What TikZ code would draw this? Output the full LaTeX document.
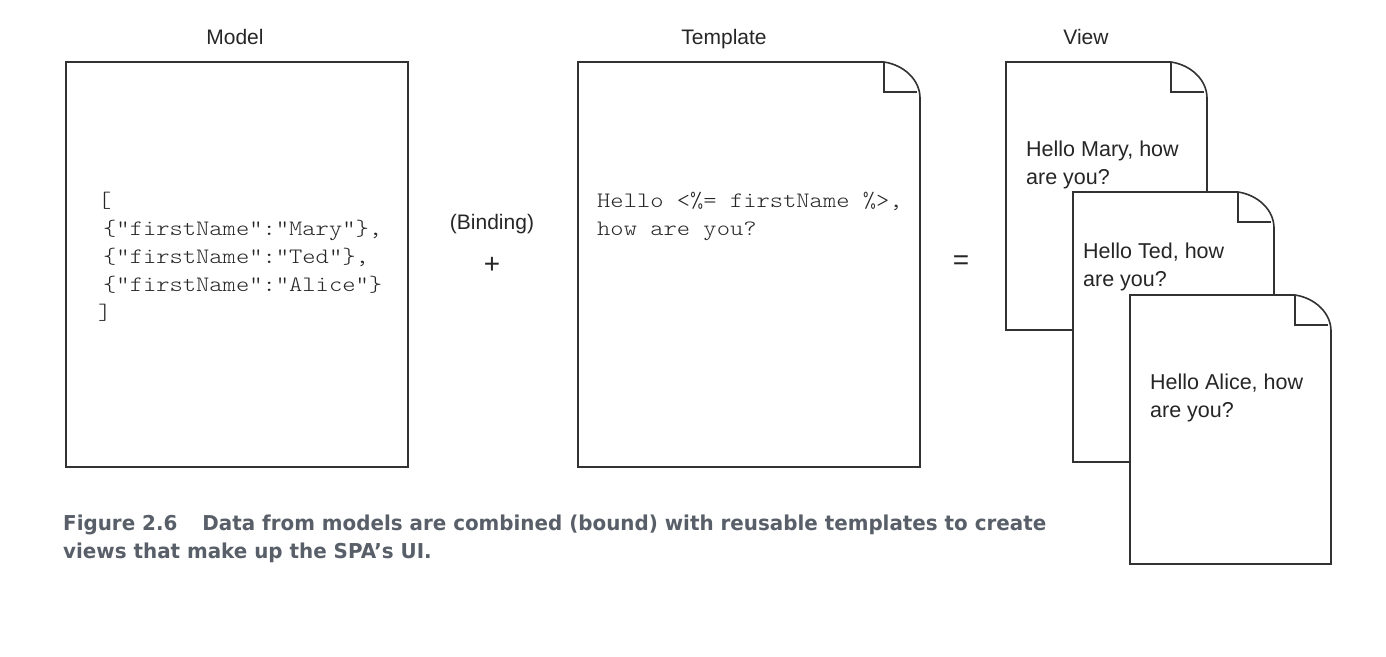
\documentclass[tikz,border=0pt]{standalone}
\usepackage{fontspec}
\setmainfont{Liberation Sans}
\newfontfamily\codefont[FakeStretch=1.15]{lmmonolt10-regular.otf}
\newfontfamily\capfont[FakeStretch=0.97]{DejaVu Sans}
\definecolor{ink}{RGB}{50,50,50}
\definecolor{capgray}{RGB}{88,95,104}

\tikzset{
  sheet/.style={draw=ink, line width=1.6pt, fill=white, line join=miter},
  label/.style={font=\fontsize{21}{25}\selectfont, text=black!85, inner sep=0pt},
  operator/.style={font=\fontsize{28}{30}\selectfont, text=black!85, inner sep=0pt},
  code/.style={font=\fontsize{22}{28}\selectfont\codefont, text=black!85, inner sep=0pt, anchor=base west},
  body/.style={font=\fontsize{21.5}{28}\selectfont, text=black!85, inner sep=0pt, anchor=base west},
  caption/.style={font=\fontsize{20.5}{28}\selectfont\capfont\bfseries, text=capgray, inner sep=0pt, anchor=base west}
}

% page with a dog-eared top-right corner: #1 = x, #2 = y, #3 = width, #4 = height
\newcommand\dogpage[4]{%
  \draw[sheet] (#1,#2) -- ({#1+#3-36},#2)
    .. controls ({#1+#3-16},{#2+3}) and ({#1+#3},{#2+18}) .. ({#1+#3},{#2+36})
    -- ({#1+#3},{#2+#4}) -- (#1,{#2+#4}) -- cycle;
  \draw[draw=ink, line width=1.6pt] ({#1+#3-36},#2) -- ({#1+#3-36},{#2+30}) -- ({#1+#3-3},{#2+30});
}

\begin{document}
\begin{tikzpicture}[x=1pt, y=-1pt]
\useasboundingbox (0,0) rectangle (1386,656);

% column headings
\node[label, anchor=base] (hmodel) at (235,44) {Model};
\node[label, anchor=base] (htemplate) at (724,44) {Template};
\node[label, anchor=base] (hview) at (1086,44) {View};

% model box with the JSON data
\draw[sheet] (66,62) rectangle (408,467);
\node[code] (m0) at (98,207) {[};
\node[code] (m1) at (103,235) {\{"firstName":"Mary"\},};
\node[code] (m2) at (103,263) {\{"firstName":"Ted"\},};
\node[code] (m3) at (103,291) {\{"firstName":"Alice"\}};
\node[code] (m4) at (98,319) {]};

% binding operator
\node[label, anchor=base] (binding) at (492,229) {(Binding)};
\node[operator] (plus) at (492,265) {+};

% template page
\dogpage{578}{62}{342}{405}
\node[code] (t1) at (597,207) {Hello <\%= firstName \%>,};
\node[code] (t2) at (597,235) {how are you?};

\node[operator] (equals) at (961,263) {=};

% rendered views
\dogpage{1006}{62}{201}{268}
\node[body] (v1a) at (1026,156) {Hello Mary, how};
\node[body] (v1b) at (1026,184) {are you?};

\dogpage{1073}{192}{201}{270}
\node[body] (v2a) at (1083,258) {Hello Ted, how};
\node[body] (v2b) at (1083,286) {are you?};

\dogpage{1130}{295}{201}{269}
\node[body] (v3a) at (1150,389) {Hello Alice, how};
\node[body] (v3b) at (1150,417) {are you?};

% figure caption
\node[caption] (cap1) at (63,530) {Figure 2.6\hspace{25pt}Data from models are combined (bound) with reusable templates to create};
\node[caption] (cap2) at (63,558) {views that make up the SPA’s UI.};
\end{tikzpicture}
\end{document}
